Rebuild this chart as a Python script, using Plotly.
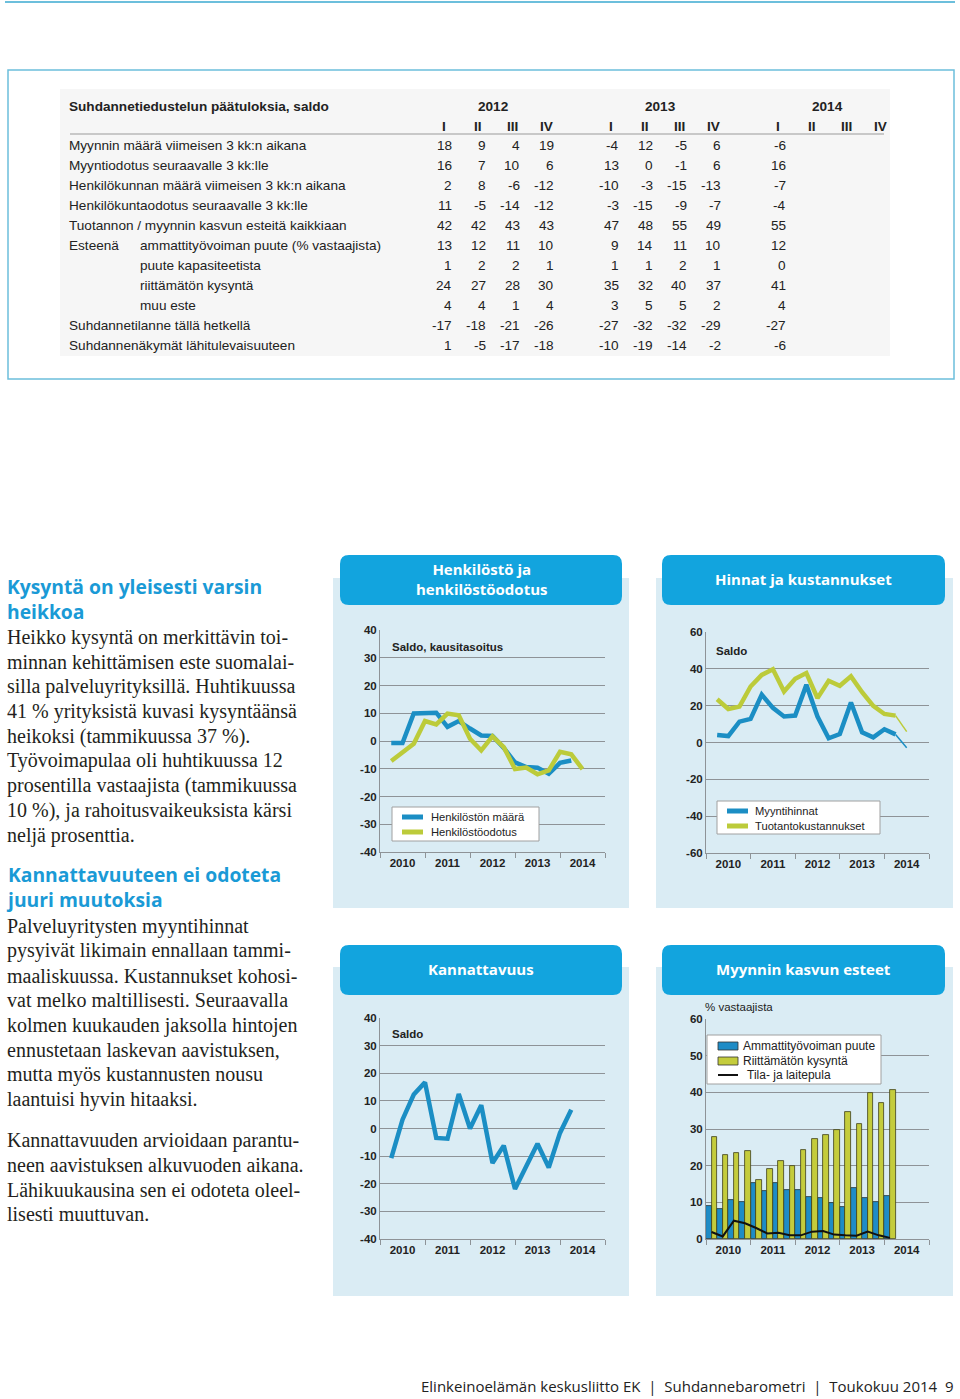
import plotly.graph_objects as go

W, H = 960, 1399


def px(x):
    return x / W


def py(y):
    return 1 - y / H


# ---------------- DATA ----------------
table_title = "Suhdannetiedustelun päätuloksia, saldo"
table_years = ["2012", "2013", "2014"]
table_quarters = ["I", "II", "III", "IV"]
row_prefix = ["", "", "", "", "", "Esteenä", "", "", "", "", ""]
row_labels = [
    "Myynnin määrä viimeisen 3 kk:n aikana",
    "Myyntiodotus seuraavalle 3 kk:lle",
    "Henkilökunnan määrä viimeisen 3 kk:n aikana",
    "Henkilökuntaodotus seuraavalle 3 kk:lle",
    "Tuotannon / myynnin kasvun esteitä kaikkiaan",
    "ammattityövoiman puute (% vastaajista)",
    "puute kapasiteetista",
    "riittämätön kysyntä",
    "muu este",
    "Suhdannetilanne tällä hetkellä",
    "Suhdannenäkymät lähitulevaisuuteen",
]
row_indented = [False, False, False, False, False, True, True, True, True, False, False]
vals_2012 = [[18, 9, 4, 19], [16, 7, 10, 6], [2, 8, -6, -12], [11, -5, -14, -12],
             [42, 42, 43, 43], [13, 12, 11, 10], [1, 2, 2, 1], [24, 27, 28, 30],
             [4, 4, 1, 4], [-17, -18, -21, -26], [1, -5, -17, -18]]
vals_2013 = [[-4, 12, -5, 6], [13, 0, -1, 6], [-10, -3, -15, -13], [-3, -15, -9, -7],
             [47, 48, 55, 49], [9, 14, 11, 10], [1, 1, 2, 1], [35, 32, 40, 37],
             [3, 5, 5, 2], [-27, -32, -32, -29], [-10, -19, -14, -2]]
vals_2014 = [[-6], [16], [-7], [-4], [55], [12], [0], [41], [4], [-27], [-6]]

years = ["2010", "2011", "2012", "2013", "2014"]
quarters = [(y, q) for y in range(2010, 2015) for q in range(1, 5)][:18]

henk_maara = [-0.7, -0.7, 9.9, 10, 10.2, 5.1, 7.2, 4.5, 2, 1.8, -2.5, -7.7, -9.4, -9.6, -11.8, -7.9, -7]
henk_odotus = [-7.2, -4, -1, 7.2, 6, 9.9, 9.3, 0.8, -3.4, 1.7, -2.2, -10.1, -9.6, -12, -10.6, -3.9, -4.8, -10.1]

myyntihinnat = [4.1, 3.5, 11.3, 12.8, 26, 18.8, 14.1, 14.6, 31.3, 14.1, 2.3, 4.6, 21.7, 5.5, 2.8, 7.2, 4.4, -2.8]
kustannukset = [23.5, 18.2, 19.5, 30.4, 36.7, 39.8, 27.7, 34.6, 37.7, 24.1, 33.5, 30.8, 35.9, 27.3, 19.9, 15.5, 14.6, 5.9]

kannattavuus = [-10.7, 3.2, 12.3, 16.7, -3.4, -3.7, 12.5, 0, 8.4, -12.5, -6.2, -21.9, -13.7, -5.5, -14.1, -1.6, 6.8]

ammattityovoima = [9, 8.1, 10.7, 10, 15.2, 13.2, 15.2, 13.3, 13.4, 11.5, 11.1, 9.8, 8.7, 13.9, 11.3, 10, 11.7]
kysynta = [27.7, 23, 23.4, 24, 16, 19, 21.4, 20, 24.4, 27.3, 28.5, 29.7, 34.6, 31.5, 39.8, 37, 40.7]
tilapula = [1.9, 0.7, 5, 4.3, 3, 1.5, 1.7, 1, 1, 2, 2.2, 1.2, 1, 0.9, 2, 1, 0.3]

heading1 = ["Kysyntä on yleisesti varsin", "heikkoa"]
para1 = ["Heikko kysyntä on merkittävin toi-",
         "minnan kehittämisen este suomalai-",
         "silla palveluyrityksillä. Huhtikuussa",
         "41 % yrityksistä kuvasi kysyntäänsä",
         "heikoksi (tammikuussa 37 %).",
         "Työvoimapulaa oli huhtikuussa 12",
         "prosentilla vastaajista (tammikuussa",
         "10 %), ja rahoitusvaikeuksista kärsi",
         "neljä prosenttia."]
heading2 = ["Kannattavuuteen ei odoteta", "juuri muutoksia"]
para2 = ["Palveluyritysten myyntihinnat",
         "pysyivät likimain ennallaan tammi-",
         "maaliskuussa. Kustannukset kohosi-",
         "vat melko maltillisesti. Seuraavalla",
         "kolmen kuukauden jaksolla hintojen",
         "ennustetaan laskevan aavistuksen,",
         "mutta myös kustannusten nousu",
         "laantuisi hyvin hitaaksi."]
para3 = ["Kannattavuuden arvioidaan parantu-",
         "neen aavistuksen alkuvuoden aikana.",
         "Lähikuukausina sen ei odoteta oleel-",
         "lisesti muuttuvan."]
footer = "Elinkeinoelämän keskusliitto EK  |  Suhdannebarometri  |  Toukokuu 2014  9"

# ---------------- STYLE ----------------
BLUE = "#1b8ec4"
OLIVE = "#bccb3a"
BAR_BLUE = "#1f8cc6"
BAR_OLIVE = "#c4cc3c"
TAB = "#12a4de"
PANEL = "#daecf4"
GRID = "#8e9397"
HEAD = "#1a9ad6"
TXT = "#231f20"
SANS = "Liberation Sans, Arial, sans-serif"
SERIF = "Liberation Serif, Times New Roman, serif"
ROUND = "Open Sans, Lato, sans-serif"

x_line = [y + q / 4 for (y, q) in quarters]
x_bar = [y + (q - 0.5) / 4 for (y, q) in quarters]

fig = go.Figure()
annotations = []
shapes = []


def txt(x, y, text, size, color=TXT, family=SANS, anchor="left", weight="normal"):
    annotations.append(dict(x=px(x), y=py(y), xref="paper", yref="paper", text=text,
                            showarrow=False, xanchor=anchor, yanchor="middle",
                            align=anchor if anchor != "center" else "center",
                            borderpad=0, borderwidth=0,
                            font=dict(size=size, color=color, family=family, weight=weight)))


def rrect(x0, y0, x1, y1, r, fill):
    P = lambda x, y: f"{px(x):.6f},{py(y):.6f}"
    path = (f"M{P(x0 + r, y0)} L{P(x1 - r, y0)} Q{P(x1, y0)} {P(x1, y0 + r)} "
            f"L{P(x1, y1 - r)} Q{P(x1, y1)} {P(x1 - r, y1)} L{P(x0 + r, y1)} "
            f"Q{P(x0, y1)} {P(x0, y1 - r)} L{P(x0, y0 + r)} Q{P(x0, y0)} {P(x0 + r, y0)} Z")
    shapes.append(dict(type="path", path=path, xref="paper", yref="paper",
                       fillcolor=fill, line=dict(width=0), layer="below"))


def rect(x0, y0, x1, y1, fill=None, line_color=None, lw=1, layer="below"):
    shapes.append(dict(type="rect", xref="paper", yref="paper", x0=px(x0), x1=px(x1),
                       y0=py(y1), y1=py(y0), fillcolor=fill if fill else "rgba(0,0,0,0)",
                       line=dict(width=lw if line_color else 0, color=line_color or "rgba(0,0,0,0)"),
                       layer=layer))


def hline(x0, x1, y, color, width, layer="below"):
    shapes.append(dict(type="line", xref="paper", yref="paper", x0=px(x0), x1=px(x1),
                       y0=py(y), y1=py(y), line=dict(color=color, width=width), layer=layer))


# ---------------- TOP LINE & TABLE ----------------
hline(5, 955, 2, "#6cbfdc", 2)
rect(8, 70, 954, 379, None, "#6cbfdc", 1.5)
rect(60, 89, 890, 356, "#f6f6f6")
hline(70, 884, 134, "#9a9a9a", 1)

TFS = 13.6
txt(69, 106, table_title, TFS, "#222", SANS, weight="bold")
col_right = [[452 + 34 * k for k in range(4)], [619 + 34 * k for k in range(4)], [786 + 34 * k for k in range(4)]]
for yi, yr in enumerate(table_years):
    cx = (col_right[yi][0] + col_right[yi][3]) / 2 - 10
    txt(cx, 106, yr, TFS, "#222", SANS, anchor="center", weight="bold")
    for qi, ql in enumerate(table_quarters):
        txt(col_right[yi][qi] - 8, 126, ql, TFS, "#222", SANS, anchor="center", weight="bold")
for ri, lab in enumerate(row_labels):
    yy = 146 + 19.9 * ri
    if row_prefix[ri]:
        txt(69, yy, row_prefix[ri], TFS, "#222", SANS)
    txt(140 if row_indented[ri] else 69, yy, lab, TFS, "#222", SANS)
    for yi, vals in enumerate([vals_2012[ri], vals_2013[ri], vals_2014[ri]]):
        for qi, v in enumerate(vals):
            txt(col_right[yi][qi], yy, str(v), TFS, "#222", SANS, anchor="right")

# ---------------- LEFT TEXT ----------------
txt(7, 599, "<br>".join(heading1), 19.3, HEAD, ROUND, weight="bold")
for i, l in enumerate(para1):
    txt(7, 637 + 24.75 * i, l, 20, TXT, SERIF)
txt(6, 887, "<br>".join(heading2), 19.3, HEAD, ROUND, weight="bold")
for i, l in enumerate(para2):
    txt(7, 926 + 24.75 * i, l, 20, TXT, SERIF)
for i, l in enumerate(para3):
    txt(7, 1140 + 24.75 * i, l, 20, TXT, SERIF)

txt(954, 1386, footer, 15, "#222", ROUND, anchor="right")

# ---------------- PANELS ----------------
panels = [
    dict(bg=(333, 578, 629, 908), tab=(340, 555, 622, 605), title=["Henkilöstö ja", "henkilöstöodotus"]),
    dict(bg=(656, 578, 953, 908), tab=(662, 555, 945, 605), title=["Hinnat ja kustannukset"]),
    dict(bg=(333, 967, 629, 1296), tab=(340, 945, 622, 995), title=["Kannattavuus"]),
    dict(bg=(656, 967, 953, 1296), tab=(662, 945, 945, 995), title=["Myynnin kasvun esteet"]),
]
for p in panels:
    x0, y0, x1, y1 = p["bg"]
    rect(x0, y0, x1, y1, PANEL)
    tx0, ty0, tx1, ty1 = p["tab"]
    rrect(tx0, ty0, tx1, ty1, 9, TAB)
    cx = (tx0 + tx1) / 2
    cy = (ty0 + ty1) / 2 - 1
    txt(cx, cy, "<br>".join(p["title"]), 15, "white", ROUND, anchor="center", weight="bold")

# ---------------- TRACES ----------------
fig.add_trace(go.Scatter(x=x_line[:17], y=henk_maara, mode="lines", name="Henkilöstön määrä",
                         line=dict(color=BLUE, width=4.5), xaxis="x", yaxis="y"))
fig.add_trace(go.Scatter(x=x_line[:18], y=henk_odotus, mode="lines", name="Henkilöstöodotus",
                         line=dict(color=OLIVE, width=4.5), xaxis="x", yaxis="y"))

fig.add_trace(go.Scatter(x=x_line[:17], y=myyntihinnat[:17], mode="lines", name="Myyntihinnat",
                         line=dict(color=BLUE, width=4.5), xaxis="x2", yaxis="y2"))
fig.add_trace(go.Scatter(x=x_line[:17], y=kustannukset[:17], mode="lines", name="Tuotantokustannukset",
                         line=dict(color=OLIVE, width=4.5), xaxis="x2", yaxis="y2"))
fig.add_trace(go.Scatter(x=x_line[16:18], y=myyntihinnat[16:18], mode="lines", name="Myyntihinnat, odotus",
                         line=dict(color=BLUE, width=1.5), xaxis="x2", yaxis="y2"))
fig.add_trace(go.Scatter(x=x_line[16:18], y=kustannukset[16:18], mode="lines", name="Tuotantokustannukset, odotus",
                         line=dict(color=OLIVE, width=1.5), xaxis="x2", yaxis="y2"))

fig.add_trace(go.Scatter(x=x_line[:17], y=kannattavuus, mode="lines", name="Kannattavuus",
                         line=dict(color=BLUE, width=4.5), xaxis="x3", yaxis="y3"))

fig.add_trace(go.Bar(x=x_bar[:17], y=ammattityovoima, name="Ammattityövoiman puute",
                     marker=dict(color=BAR_BLUE, line=dict(color="#233238", width=0.8)),
                     xaxis="x4", yaxis="y4"))
fig.add_trace(go.Bar(x=x_bar[:17], y=kysynta, name="Riittämätön kysyntä",
                     marker=dict(color=BAR_OLIVE, line=dict(color="#3e3f18", width=0.8)),
                     xaxis="x4", yaxis="y4"))
fig.add_trace(go.Scatter(x=x_bar[:17], y=tilapula, mode="lines", name="Tila- ja laitepula",
                         line=dict(color="#111111", width=2), xaxis="x4", yaxis="y4"))

# ---------------- LEGENDS (drawn boxes) ----------------
def legend_box(x0, y0, x1, y1, entries, sample_x0, sample_x1, text_x, size):
    rect(x0, y0, x1, y1, "white", "#a0a0a0", 1, layer="above")
    for (label, kind, color, yy, dx) in entries:
        if kind == "line":
            hline(sample_x0, sample_x1, yy, color, 5, layer="above")
        elif kind == "thin":
            hline(sample_x0, sample_x1, yy, color, 2, layer="above")
        else:
            rect(sample_x0, yy - 4, sample_x1, yy + 4, color, "#333333", 0.8, layer="above")
        txt(text_x + dx, yy, label, size, "#222", SANS)


legend_box(392, 807, 539, 841, [("Henkilöstön määrä", "line", BLUE, 817, 0),
                                ("Henkilöstöodotus", "line", OLIVE, 832, 0)], 402, 423, 431, 11.2)
legend_box(717, 801, 880, 834, [("Myyntihinnat", "line", BLUE, 811, 0),
                                ("Tuotantokustannukset", "line", OLIVE, 826, 0)], 727, 748, 755, 11.2)
legend_box(707, 1035, 881, 1084, [("Ammattityövoiman puute", "bar", BAR_BLUE, 1046, 0),
                                  ("Riittämätön kysyntä", "bar", BAR_OLIVE, 1061, 0),
                                  ("Tila- ja laitepula", "thin", "#111111", 1075, 4)], 718, 738, 743, 12)

txt(392, 647, "Saldo, kausitasoitus", 11.5, "#222", SANS, weight="bold")
txt(716, 651, "Saldo", 11.5, "#222", SANS, weight="bold")
txt(392, 1034, "Saldo", 11.5, "#222", SANS, weight="bold")
txt(705, 1007, "% vastaajista", 11.5, "#222", SANS)

# ---------------- AXES ----------------
year_mid = [int(y) + 0.5 for y in years]
year_bounds = [int(years[0]) + i for i in range(len(years) + 1)]


def xaxis(x0, x1, anchor):
    return dict(domain=[px(x0), px(x1)], anchor=anchor, range=[2010, 2015], tickmode="array",
                tickvals=year_mid, ticktext=years, ticks="", showgrid=False, zeroline=False,
                showline=True, linecolor=GRID, linewidth=1, fixedrange=True, automargin=False,
                tickfont=dict(size=11.5, family=SANS, color="#222", weight="bold"),
                minor=dict(tickmode="array", tickvals=year_bounds, ticks="outside", ticklen=5,
                           tickcolor=GRID, showgrid=False))


def yaxis(ytop, ybot, rng, step, anchor):
    vals = list(range(rng[0], rng[1] + 1, step))
    return dict(domain=[py(ybot), py(ytop)], anchor=anchor, range=rng, tickmode="array",
                tickvals=vals, ticktext=[str(v) for v in vals], ticks="", showgrid=True,
                gridcolor=GRID, gridwidth=1, zeroline=False, showline=True, linecolor=GRID,
                linewidth=1, fixedrange=True, automargin=False,
                tickfont=dict(size=11.5, family=SANS, color="#222", weight="bold"))


fig.update_layout(
    width=W, height=H, margin=dict(l=0, r=0, t=0, b=0, pad=0, autoexpand=False),
    paper_bgcolor="white", plot_bgcolor="rgba(0,0,0,0)",
    barmode="group", bargap=0, bargroupgap=0, showlegend=False,
    xaxis=xaxis(380, 605, "y"), yaxis=yaxis(630, 852, [-40, 40], 10, "x"),
    xaxis2=xaxis(706, 929, "y2"), yaxis2=yaxis(632, 853, [-60, 60], 20, "x2"),
    xaxis3=xaxis(380, 605, "y3"), yaxis3=yaxis(1018, 1239, [-40, 40], 10, "x3"),
    xaxis4=xaxis(706, 929, "y4"), yaxis4=yaxis(1019, 1239, [0, 60], 10, "x4"),
    annotations=annotations, shapes=shapes,
)

fig.write_html("out.html", config={"displayModeBar": False},
               post_script="document.body.style.margin='0px';")
